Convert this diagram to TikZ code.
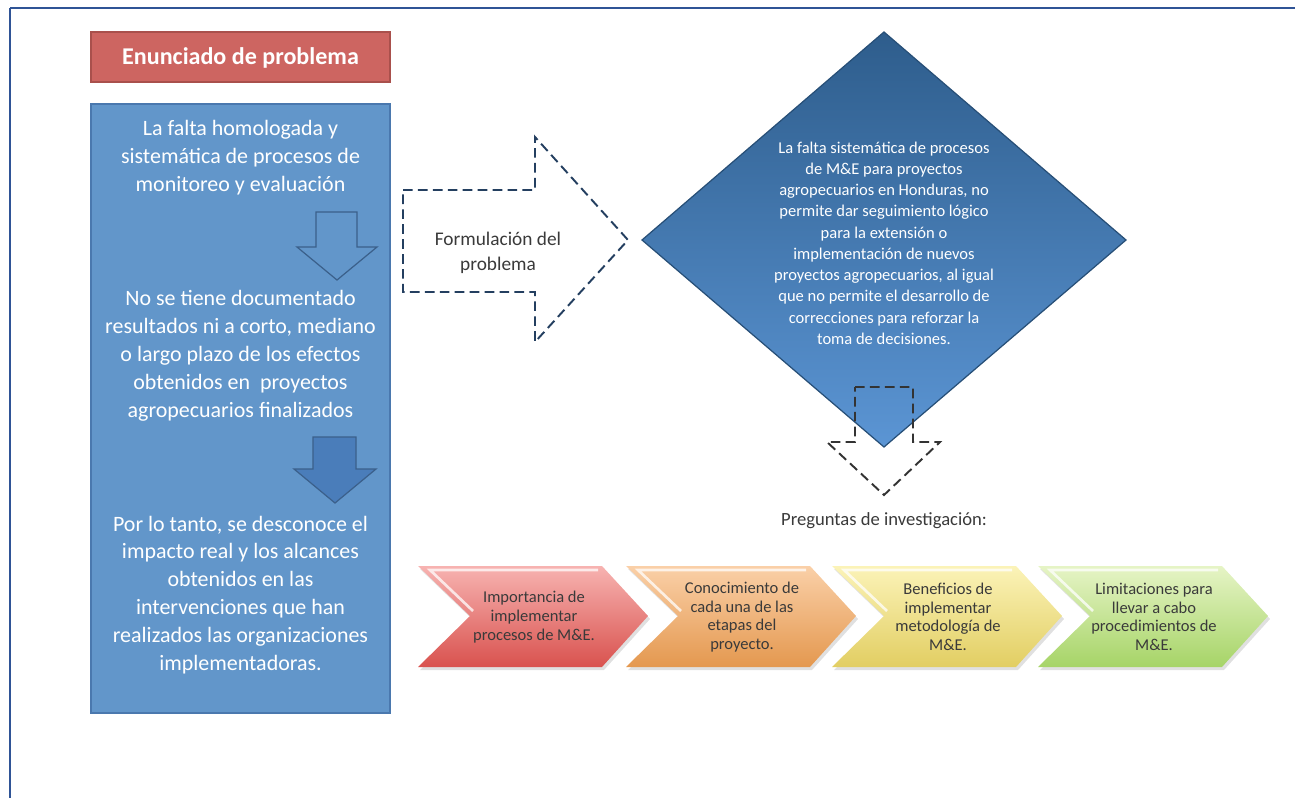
\documentclass[tikz,border=0pt]{standalone}
\usepackage{fontspec}
\setmainfont{Carlito}
\usepackage{tikz}

\definecolor{frameblue}{HTML}{2F5496}
\definecolor{titlered}{HTML}{CD6561}
\definecolor{titleedge}{HTML}{A9504C}
\definecolor{boxblue}{HTML}{6296CA}
\definecolor{boxedge}{HTML}{4A78AE}
\definecolor{arrowblue}{HTML}{4A7DBA}
\definecolor{navy}{HTML}{243F60}
\definecolor{diamtop}{HTML}{2E5D8C}
\definecolor{diambot}{HTML}{5B95D4}
\definecolor{txtgray}{HTML}{3A3A3A}
\definecolor{redtop}{HTML}{F7B3B1}
\definecolor{redbot}{HTML}{D9524E}
\definecolor{orgtop}{HTML}{FAD0A8}
\definecolor{orgbot}{HTML}{E4984F}
\definecolor{yeltop}{HTML}{FBF3B8}
\definecolor{yelbot}{HTML}{E2CE62}
\definecolor{grntop}{HTML}{E6F4C6}
\definecolor{grnbot}{HTML}{A6D467}

\tikzset{
	boxtext/.style={text=white, align=center, font=\fontsize{12.5}{15.9}\selectfont},
	dashedge/.style={dash pattern=on 5.5pt off 3pt, line width=1.1pt},
	chevtext/.style={text=txtgray, align=center, font=\fontsize{9.4}{10.6}\selectfont}
}

\begin{document}
\begin{tikzpicture}[x=0.02cm, y=-0.02cm]
	\useasboundingbox (0,0) rectangle (1295,798);
	% frame
	\draw[frameblue, line width=1.4pt] (10,8) -- (1295,8);
	\draw[frameblue, line width=0.8pt] (10,8) -- (10,798);
	% title
	\draw[titleedge, fill=titlered, line width=0.8pt] (91,32) rectangle (390,82);
	\node[text=white, font=\fontsize{13.7}{16}\selectfont\bfseries] (title) at (240.5,58) {Enunciado de problema};
	% blue box
	\draw[boxedge, fill=boxblue, line width=0.8pt] (91,104) rectangle (390,713);
	\node[boxtext] (t1) at (240.5,158) {La falta homologada y\\sistemática de procesos de\\monitoreo y evaluación};
	\draw[boxedge!80!black, line width=0.7pt] (316,212) -- (357,212) -- (357,247) -- (377,247)
		-- (337,280) -- (297,247) -- (316,247) -- cycle;
	\node[boxtext] (t2) at (240.5,355.5) {No se tiene documentado\\resultados ni a corto, mediano\\o largo plazo de los efectos\\obtenidos en\ \ proyectos\\agropecuarios finalizados};
	\draw[boxedge!80!black, fill=arrowblue, line width=0.7pt] (313,437) -- (356,437) -- (356,469) -- (376,469)
		-- (335,503) -- (294,469) -- (313,469) -- cycle;
	\node[boxtext] (t3) at (240.5,595) {Por lo tanto, se desconoce el\\impacto real y los alcances\\obtenidos en las\\intervenciones que han\\realizados las organizaciones\\implementadoras.};
	% formulacion
	\draw[navy, dashedge] (403,190) -- (535,190) -- (535,137) -- (628,240) -- (535,342)
		-- (535,292) -- (403,292) -- cycle;
	\node[text=txtgray, align=center, font=\fontsize{11}{14.2}\selectfont] (form) at (498,253) {Formulación del\\problema};
	% diamond
	\draw[diamtop!85!black, top color=diamtop, bottom color=diambot, line width=0.7pt]
		(884,32) -- (1126,240) -- (884,447) -- (642,240) -- cycle;
	\node[text=white, align=center, font=\fontsize{9.4}{12.1}\selectfont] (prob) at (884,243) {La falta sistemática de procesos\\de M\&E para proyectos\\agropecuarios en Honduras, no\\permite dar seguimiento lógico\\para la extensión o\\implementación de nuevos\\proyectos agropecuarios, al igual\\que no permite el desarrollo de\\correcciones para reforzar la\\toma de decisiones.};
	\draw[black!80, dashedge] (855,387) -- (913,387) -- (913,442) -- (940,442) -- (884,495)
		-- (827,442) -- (855,442) -- cycle;
	\node[text=txtgray, font=\fontsize{10.6}{13}\selectfont] (preg) at (884,521) {Preguntas de investigación:};
	% questions
	\foreach \x/\ct/\cb/\lbl [count=\i] in {
		418/redtop/redbot/{Importancia de\\implementar\\procesos de M\&E.},
		626/orgtop/orgbot/{Conocimiento de\\cada una de las\\etapas del\\proyecto.},
		832/yeltop/yelbot/{Beneficios de\\implementar\\metodología de\\M\&E.},
		1038/grntop/grnbot/{Limitaciones para\\llevar a cabo\\procedimientos de\\M\&E.}}{
		\fill[black, opacity=0.12] (\x+2,569) -- (\x+186,569) -- (\x+232,619) -- (\x+186,670)
			-- (\x+2,670) -- (\x+54,619) -- cycle;
		\shade[top color=\ct, bottom color=\cb] (\x,566) -- (\x+184,566) -- (\x+230,616)
			-- (\x+184,667) -- (\x,667) -- (\x+52,616) -- cycle;
		\draw[white, opacity=0.75, line width=1.5pt] (\x+55,611) -- (\x+12,570) -- (\x+180,570);
		\node[chevtext] (q\i) at (\x+116,617) {\lbl};
	}
\end{tikzpicture}
\end{document}
